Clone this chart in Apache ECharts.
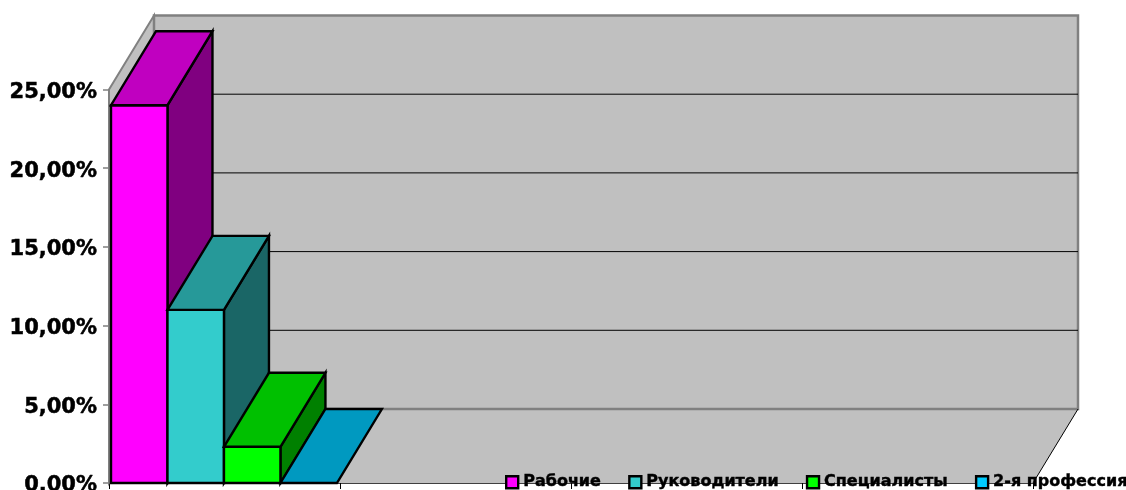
<!DOCTYPE html>
<html><head><meta charset="utf-8">
<style>html,body{margin:0;padding:0;background:#fff;overflow:hidden}#c{width:1126px;height:490px}</style>
<script src="https://cdn.jsdelivr.net/npm/echarts@6/dist/echarts.min.js"></script>
</head><body><div id="c"></div>
<script>
const categories = ['', '', '', ''];
const seriesNames = ['Рабочие', 'Руководители', 'Специалисты', '2-я профессия'];
const rabochie = [24.0];
const rukovoditeli = [11.0];
const specialisty = [2.3];
const vtoraya = [0.0];
const valueTicks = [0, 5, 10, 15, 20, 25];

const FONT = '"DejaVu Sans"';
const DX = 45, DY = -74, BARW = 0.2445;
const palette = [
  {front:'#ff00ff', top:'#c000c0', side:'#800080'},
  {front:'#33cccc', top:'#269999', side:'#1a6666'},
  {front:'#00ff00', top:'#00c000', side:'#008000'},
  {front:'#00ccff', top:'#0099c0', side:'#006680'}
];
const edge = {stroke:'#000', lineWidth:2.4, lineJoin:'miter'};

function poly(points, fill, st){
  return {type:'polygon', shape:{points}, style:Object.assign({fill}, st || edge)};
}
function barRender(i){
  return function(params, api){
    const band = api.size([1,0])[0];
    const v = api.value(1);
    const base = api.coord([api.value(0), 0]);
    const top = api.coord([api.value(0), v]);
    const w = band * BARW;
    const x0 = base[0] - band/2 + 2 + i*w, x1 = x0 + w;
    const yb = base[1], yt = top[1];
    const c = palette[i];
    const children = [];
    if (yb - yt > 0.5) {
      children.push(poly([[x1,yb],[x1+DX,yb+DY],[x1+DX,yt+DY],[x1,yt]], c.side));
      children.push(poly([[x0,yb],[x1,yb],[x1,yt],[x0,yt]], c.front));
    }
    children.push(poly([[x0,yt],[x1,yt],[x1+DX,yt+DY],[x0+DX,yt+DY]], c.top));
    return {type:'group', children};
  };
}
function wallsRender(params, api){
  const g = params.coordSys;
  const x0 = g.x, x1 = g.x + g.width, yb = g.y + g.height, yt = g.y;
  const gray = {stroke:'#808080', lineWidth:2};
  const thin = {stroke:'#000', lineWidth:1};
  const kids = [
    poly([[x0,yb],[x0+DX,yb+DY],[x1+DX,yb+DY],[x1,yb]], '#c0c0c0', {stroke:null}),
    poly([[x0,yb],[x0,yt],[x0+DX,yt+DY],[x0+DX,yb+DY]], '#c0c0c0', gray),
    poly([[x0+DX,yt+DY],[x1+DX,yt+DY],[x1+DX,yb+DY],[x0+DX,yb+DY]], '#c0c0c0', {stroke:'#808080', lineWidth:2.5})
  ];
  valueTicks.slice(1,-1).forEach(t=>{
    const y = api.coord([0,t])[1] + DY;
    kids.push({type:'line', shape:{x1:x0+DX, y1:y, x2:x1+DX, y2:y}, style:thin});
  });
  kids.push({type:'line', shape:{x1:x1+DX, y1:yb+DY, x2:x1, y2:yb}, style:thin});
  return {type:'group', children:kids};
}

const chart = echarts.init(document.getElementById('c'));
chart.setOption({
  animation:false,
  backgroundColor:'#fff',
  grid:{left:109, top:89.5, width:924, height:393.5, containLabel:false, outerBoundsMode:'none'},
  legend:{
    left:505, top:474, width:640, padding:0, itemGap:27, itemWidth:12, itemHeight:12,
    icon:'rect', orient:'horizontal',
    data:seriesNames,
    textStyle:{fontFamily:FONT, fontWeight:'bold', fontSize:16, color:'#000', textBorderColor:'#000', textBorderWidth:0.4},
    itemStyle:{borderColor:'#000', borderWidth:2.4}
  },
  xAxis:{
    type:'category', data:categories,
    axisLine:{lineStyle:{color:'#000', width:1.5}},
    axisTick:{show:true, length:6, alignWithLabel:false, lineStyle:{color:'#000', width:1}},
    axisLabel:{show:false}, splitLine:{show:false}
  },
  yAxis:{
    type:'value', min:0, max:25, interval:5,
    axisLine:{show:true, lineStyle:{color:'#808080', width:1.5}},
    axisTick:{show:true, length:6, lineStyle:{color:'#808080', width:1.5}},
    axisLabel:{margin:12, fontFamily:FONT, fontWeight:'bold', fontSize:21, color:'#000', textBorderColor:'#000', textBorderWidth:0.5,
      verticalAlign:'top', lineHeight:6,
      formatter:v=>v.toFixed(2).replace('.',',')+'%'},
    splitLine:{show:false}
  },
  series:[
    {type:'custom', silent:true, z:1, clip:false, renderItem:wallsRender, data:[[0,0]], encode:{x:0,y:1}},
    ...[rabochie, rukovoditeli, specialisty, vtoraya].map((arr,i)=>({
      type:'custom', name:seriesNames[i], z:2+i, clip:false,
      itemStyle:{color:palette[i].front},
      renderItem:barRender(i),
      encode:{x:0,y:1},
      data:arr.map((v,k)=>[k,v])
    }))
  ]
});
</script></body></html>
